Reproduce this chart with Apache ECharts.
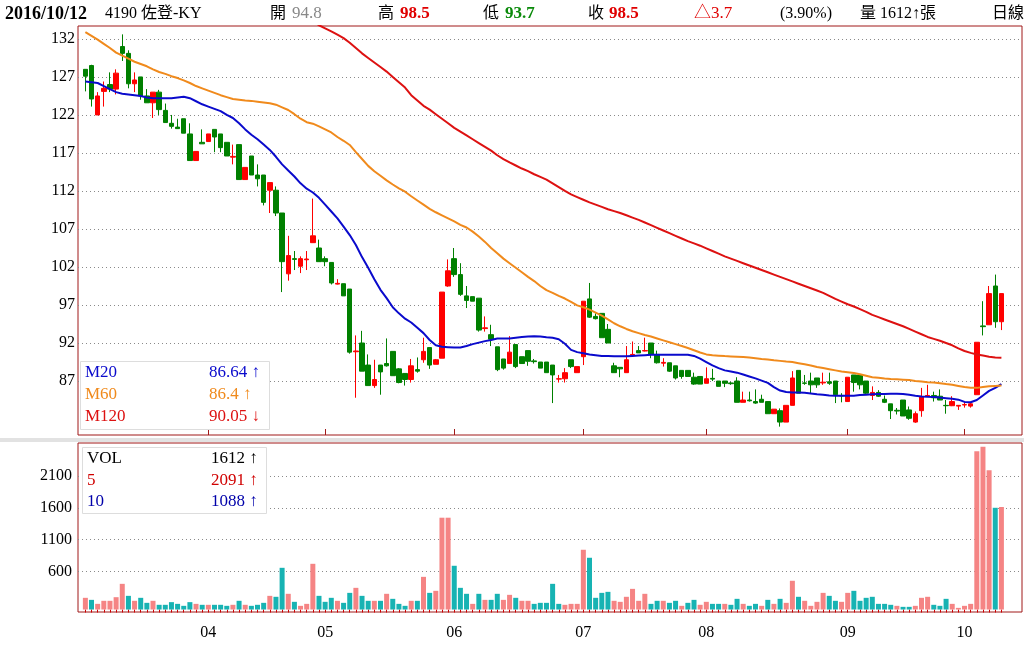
<!DOCTYPE html>
<html><head><meta charset="utf-8">
<script src="https://cdn.jsdelivr.net/npm/echarts@6/dist/echarts.min.js"></script>
<style>html,body{margin:0;padding:0;background:#fff}#c{width:1024px;height:662px}</style>
</head><body><div id="c"></div>
<script>
// ---------- data ----------
const monthLabels = ['03','04','05','06','07','08','09','10'];
const monthCounts = [20,19,21,21,20,23,19,7];

const open = [128.0,128.5,122.0,125.1,126.0,125.4,131.0,130.1,126.1,127.0,
124.5,123.6,125.0,122.6,120.9,120.4,121.5,119.5,116.0,118.4,
118.5,120.1,119.5,118.4,116.45,118.1,113.5,116.6,114.1,114.1,
112.1,112.1,109.1,101.1,103.1,102.1,102.95,105.2,104.5,103.1,
102.6,99.75,99.8,99.1,90.85,92.0,89.1,86.4,89.1,89.3,
90.9,88.6,88.0,87.2,88.5,89.8,91.4,89.2,90.0,99.5,
103.1,101.0,98.2,98.1,97.9,93.9,93.1,91.5,89.9,89.3,
91.8,90.2,91.0,89.65,89.5,89.5,89.1,87.25,87.3,89.8,
88.1,90.2,97.8,95.5,95.9,93.8,89.0,88.8,88.1,90.4,
91.0,90.95,92.0,90.5,89.35,89.4,89.0,88.4,88.4,87.5,
87.6,86.7,87.35,87.0,87.0,86.75,87.0,84.2,84.5,84.3,
84.6,84.3,82.7,83.1,81.6,83.8,88.4,86.75,87.0,87.4,
86.75,86.9,87.0,85.1,84.3,87.8,87.8,87.0,85.1,85.5,
84.6,84.0,83.15,84.5,83.2,81.6,83.1,85.0,85.1,85.0,
83.8,83.75,83.7,83.85,83.7,85.2,94.25,94.4,99.5,94.8];

const close = [127.1,124.1,124.5,125.5,125.4,127.5,130.1,126.1,126.6,124.5,
123.6,125.0,122.7,121.0,120.5,120.2,119.6,116.0,117.2,118.2,
119.5,119.1,117.7,116.6,116.55,113.5,115.1,114.1,113.6,110.5,
113.1,109.1,102.7,103.5,103.0,103.1,103.05,106.1,102.7,102.7,
99.9,99.85,98.2,90.8,90.95,88.3,86.4,87.2,88.2,89.0,
87.7,86.8,87.2,89.0,88.3,90.9,89.1,89.8,98.7,101.5,
101.0,98.4,97.6,97.5,93.7,94.0,92.5,88.5,88.7,90.8,
88.9,89.3,89.6,89.55,88.7,88.1,87.8,87.3,88.1,88.9,
88.9,97.5,95.4,95.2,92.7,92.0,88.1,88.6,89.8,90.5,
90.7,91.0,90.5,89.4,89.45,88.3,87.4,87.6,87.6,86.6,
86.6,87.3,87.25,86.3,86.7,86.65,84.2,84.5,84.4,84.1,
84.2,82.7,83.3,81.6,83.8,87.4,85.4,86.7,86.5,86.5,
86.85,86.7,85.2,85.05,87.5,86.8,86.5,85.4,85.5,85.0,
84.2,83.1,83.05,82.4,82.1,82.7,84.9,85.1,84.8,84.5,
83.75,84.3,83.8,83.9,84.0,92.1,94.15,98.5,94.8,98.5];

const low = [125.1,123.1,122.0,123.1,125.0,124.7,129.1,125.5,125.0,124.0,
123.6,121.6,122.0,121.0,120.2,120.2,119.6,116.0,116.0,118.2,
118.5,117.1,117.1,116.6,115.5,113.5,113.5,114.1,112.6,110.1,
109.1,108.7,98.7,100.2,101.6,101.2,101.6,105.2,102.7,102.1,
99.7,99.7,98.2,90.6,84.8,88.3,86.4,86.1,85.2,88.9,
87.7,86.7,86.4,86.8,88.1,89.4,88.6,89.2,90.0,99.4,
100.7,98.2,96.6,97.5,93.5,93.5,91.6,88.3,88.5,89.3,
88.7,89.3,89.0,89.3,88.7,88.1,84.1,86.8,86.8,88.7,
88.1,89.1,95.3,95.1,92.7,92.0,88.1,87.5,88.1,90.3,
90.7,90.9,90.0,89.3,88.9,88.2,87.2,87.3,87.6,86.5,
86.6,86.7,87.0,86.3,86.2,86.5,84.2,84.2,84.3,84.0,
84.2,82.7,82.7,81.0,81.6,83.8,85.4,86.5,85.4,86.1,
86.5,86.5,84.1,84.2,84.3,85.6,85.9,85.2,84.5,84.9,
84.1,82.0,82.6,82.4,81.9,81.5,82.3,85.0,84.3,84.5,
82.7,83.7,83.2,83.5,83.5,85.2,93.0,94.4,94.0,93.7];

const high = [128.0,128.6,125.0,126.4,127.6,128.0,132.6,130.5,127.6,127.0,
125.4,125.0,125.3,123.5,122.0,121.5,121.5,120.9,117.2,120.1,
119.5,120.1,119.5,118.4,118.1,118.1,115.1,116.6,115.5,114.1,
113.1,112.6,109.1,106.1,104.1,103.4,104.1,111.0,105.6,103.4,
102.6,100.4,99.8,99.1,93.0,93.6,90.5,89.8,89.1,92.6,
90.9,88.7,88.0,89.9,90.1,92.7,91.4,89.9,98.7,103.0,
104.5,102.5,99.5,98.1,97.9,95.5,94.4,91.5,89.9,92.9,
91.8,90.2,91.0,89.9,89.5,89.5,89.1,87.8,88.7,89.8,
88.9,97.5,99.9,95.9,95.9,94.5,89.4,88.8,91.6,92.2,
91.6,92.7,92.0,91.0,90.0,89.4,89.0,88.4,88.4,88.1,
87.6,88.8,88.6,87.0,87.0,86.9,87.5,85.6,85.6,85.9,
85.2,84.3,83.3,83.4,83.8,88.3,88.4,87.8,88.1,87.4,
88.1,88.1,87.0,85.4,87.5,87.8,87.8,87.0,86.3,85.8,
85.1,84.0,83.45,84.5,83.65,83.0,86.1,86.5,85.6,85.9,
84.5,85.0,83.8,84.2,84.2,92.1,97.5,99.5,101.0,98.5];

const ma20 = [126.4,126.3,126.2,125.8,125.4,125.0,124.8,124.7,124.6,124.5,
124.3,124.2,124.2,124.2,124.2,124.3,124.4,124.2,123.8,123.4,
123.1,122.8,122.5,122.0,121.6,120.9,120.1,119.4,118.8,118.1,
117.4,116.5,115.5,114.7,113.9,113.0,112.3,111.8,111.1,110.2,
109.3,108.4,107.3,106.2,104.9,103.3,101.9,100.4,99.0,97.9,
96.7,95.9,95.2,94.7,94.0,93.3,92.4,91.7,91.5,91.45,
91.4,91.4,91.6,91.85,92.05,92.25,92.4,92.6,92.6,92.6,
92.7,92.8,92.85,92.9,92.85,92.75,92.7,92.5,91.9,91.1,
90.8,90.65,90.5,90.4,90.3,90.3,90.25,90.25,90.25,90.3,
90.35,90.4,90.45,90.45,90.45,90.45,90.45,90.45,90.45,90.3,
89.95,89.5,89.05,88.7,88.4,88.25,88.1,87.85,87.6,87.35,
87.05,86.75,86.2,85.75,85.55,85.5,85.5,85.45,85.35,85.25,
85.2,85.1,85.07,85.07,85.07,85.07,85.15,85.2,85.25,85.3,
85.3,85.33,85.33,85.3,85.2,85.05,84.95,84.92,84.9,84.82,
84.75,84.68,84.55,84.25,84.2,84.5,85.1,85.7,86.1,86.6];

const ma60 = [132.9,132.4,131.9,131.35,130.8,130.2,129.8,129.4,129.0,128.7,
128.4,128.0,127.65,127.4,127.1,126.85,126.55,126.2,125.8,125.5,
125.2,124.9,124.6,124.35,124.1,124.0,123.9,123.85,123.75,123.65,
123.55,123.35,123.0,122.65,122.1,121.5,121.05,120.85,120.5,120.1,
119.7,119.1,118.6,118.05,117.1,116.2,115.3,114.6,114.0,113.4,
112.85,112.35,111.9,111.3,110.75,110.2,109.65,109.2,108.8,108.4,
108.0,107.55,107.2,106.65,106.0,105.3,104.5,103.8,103.1,102.5,
101.9,101.3,100.7,100.15,99.5,98.95,98.6,98.2,97.85,97.4,
96.95,96.7,96.4,96.0,95.6,95.1,94.6,94.2,93.85,93.55,
93.3,93.05,92.85,92.6,92.35,92.1,91.85,91.6,91.35,91.05,
90.75,90.5,90.38,90.33,90.28,90.24,90.2,90.16,90.1,90.0,
89.9,89.82,89.73,89.65,89.56,89.5,89.35,89.2,89.05,88.85,
88.7,88.55,88.4,88.25,88.15,88.05,87.9,87.7,87.5,87.42,
87.33,87.27,87.22,87.17,87.12,87.0,86.93,86.85,86.8,86.72,
86.6,86.5,86.35,86.2,86.13,86.1,86.22,86.32,86.36,86.4];

const ma120 = [null,null,null,null,null,null,null,null,null,null,
null,null,null,null,null,null,null,null,null,null,
null,null,null,null,null,null,null,null,null,null,
null,null,null,136.6,136.1,135.5,134.9,134.3,133.8,133.4,
133.0,132.55,132.1,131.5,130.8,130.1,129.5,128.9,128.3,127.7,
127.0,126.3,125.6,124.6,123.9,123.2,122.7,122.1,121.5,120.9,
120.3,119.8,119.3,118.8,118.3,117.8,117.3,116.7,116.2,115.75,
115.35,114.95,114.6,114.2,113.85,113.5,113.0,112.5,112.0,111.55,
111.2,110.85,110.5,110.2,109.9,109.6,109.35,109.1,108.8,108.5,
108.2,107.85,107.5,107.15,106.8,106.45,106.1,105.75,105.4,105.1,
104.8,104.45,104.1,103.75,103.4,103.1,102.8,102.5,102.2,101.9,
101.6,101.3,101.0,100.7,100.4,100.1,99.8,99.5,99.2,98.9,
98.6,98.2,97.8,97.45,97.1,96.8,96.45,96.1,95.7,95.4,
95.1,94.8,94.5,94.2,93.85,93.5,93.15,92.8,92.55,92.3,
92.0,91.7,91.3,90.95,90.7,90.5,90.35,90.2,90.1,90.05];

const volume = [184,152,89,137,137,194,404,215,137,184,
105,137,74,74,116,89,58,116,89,74,
74,74,74,58,74,137,74,58,74,105,
215,200,656,247,121,58,89,719,215,121,
184,137,105,262,341,215,137,137,137,247,
168,89,58,137,137,514,262,294,1444,1444,
688,341,247,89,247,152,152,247,152,231,
184,137,137,89,105,105,404,89,74,89,
89,940,814,184,262,278,137,121,200,325,
137,247,89,137,137,105,137,58,105,152,
74,121,89,89,89,74,168,89,58,89,
58,152,89,168,105,452,200,137,58,121,
262,215,137,121,262,294,137,184,200,89,
89,74,58,42,42,58,184,200,74,58,
168,89,26,58,89,2490,2560,2190,1600,1612];

const volUp = [1,0,1,1,1,1,1,0,1,0,
0,1,0,0,0,0,0,0,1,0,
1,0,0,0,1,0,1,0,0,0,
1,0,0,1,0,1,1,1,0,0,
0,1,0,0,1,0,0,1,0,1,
0,0,0,1,0,1,0,1,1,1,
0,0,0,1,0,1,0,0,1,1,
0,1,1,0,0,0,0,0,1,1,
1,1,0,0,0,0,1,1,1,1,
1,1,0,0,1,0,0,1,0,0,
1,1,0,0,1,0,0,1,0,0,
1,0,1,0,1,1,0,1,1,1,
1,0,0,1,1,0,0,0,0,0,
0,0,1,0,0,1,1,1,0,0,
0,1,1,1,1,1,1,1,0,1];

const priceTicks = [87,92,97,102,107,112,117,122,127,132];
const volTicks = [600,1100,1600,2100];

const qDate = '2016/10/12';
const qName = '4190 佐登-KY';
const qOHLC = ['94.8','98.5','93.7','98.5'];
const qChange = ['△3.7','(3.90%)'];
const qVol = '1612';
const maNames = ['M20','M60','M120'];
const maLast = ['86.64 ↑','86.4 ↑','90.05 ↓'];
const volNames = ['VOL','5','10'];
const volLast = ['1612 ↑','2091 ↑','1088 ↑'];

// ---------- derived ----------
const monthStarts = [];
{ let s = 0; monthCounts.forEach(c => { monthStarts.push(s); s += c; }); }
const labelAt = {};
monthStarts.forEach((s, k) => { labelAt[s] = monthLabels[k]; });
const shownStarts = monthStarts.slice(1);
const allIdx = open.map((_, i) => i);

// ---------- style ----------
const FONT = '"Liberation Serif","Noto Sans CJK TC",serif';
const FRAME = '#A01818';
const UPC = '#FF0000', DNC = '#008000';
const VUP = '#F58484', VDN = '#17B3B3';
const C20 = '#0A0ACC', C60 = '#F08A1C', C120 = '#DD1111';
const XMIN = -1.2, XMAX = 152.35;

function txt(x, y, text, size, color, bold, align) {
  return { type: 'text', x: x, y: y, silent: true, z: 100,
    style: { text: text, font: (bold ? 'bold ' : '') + size + 'px ' + FONT, fill: color,
      align: align || 'left', verticalAlign: 'middle' } };
}

const graphics = [
  { type: 'rect', shape: { x: 0, y: 438, width: 1024, height: 4 }, style: { fill: '#E2E2E2' }, silent: true, z: 1 },
  txt(5, 14, qDate, 18, '#000', true),
  txt(105, 14, qName, 16, '#000'),
  txt(270, 14, '開', 16, '#000'), txt(292, 14, qOHLC[0], 17, '#888'),
  txt(378, 14, '高', 16, '#000'), txt(400, 14, qOHLC[1], 17, '#E00000', true),
  txt(483, 14, '低', 16, '#000'), txt(505, 14, qOHLC[2], 17, '#0A8A0A', true),
  txt(588, 14, '收', 16, '#000'), txt(609, 14, qOHLC[3], 17, '#E00000', true),
  txt(694, 14, qChange[0], 17, '#E00000'),
  txt(780, 14, qChange[1], 16, '#000'),
  txt(860, 14, '量 ' + qVol + '↑張', 16, '#000'),
  txt(992, 14, '日線', 16, '#000'),
  { type: 'rect', shape: { x: 80.5, y: 361.5, width: 189, height: 68 }, style: { fill: '#fff', stroke: '#DDDDDD', lineWidth: 1 }, silent: true, z: 90 },
  { type: 'rect', shape: { x: 82.5, y: 447.5, width: 184, height: 66 }, style: { fill: '#fff', stroke: '#DDDDDD', lineWidth: 1 }, silent: true, z: 90 }
];
const maCols = [C20, C60, C120];
const maRows = [373, 395, 417];
maNames.forEach((n, k) => {
  graphics.push(txt(85, maRows[k], n, 17, maCols[k]));
  graphics.push(txt(209, maRows[k], maLast[k], 17, maCols[k]));
});
const volCols = ['#000', '#D00000', '#0000AA'];
const volRows = [459, 481, 502];
volNames.forEach((n, k) => {
  graphics.push(txt(87, volRows[k], n, 17, volCols[k]));
  graphics.push(txt(211, volRows[k], volLast[k], 17, volCols[k]));
});

const chart = echarts.init(document.getElementById('c'), null, { renderer: 'canvas' });
chart.setOption({
  animation: false,
  backgroundColor: '#fff',
  grid: [
    { left: 78, top: 26, width: 944, height: 409, show: true, borderColor: FRAME, borderWidth: 1, backgroundColor: '#fff' },
    { left: 78, top: 443, width: 944, height: 169, show: true, borderColor: FRAME, borderWidth: 1, backgroundColor: '#fff' }
  ],
  xAxis: [
    { type: 'value', gridIndex: 0, min: XMIN, max: XMAX,
      axisLine: { show: false }, splitLine: { show: false }, axisLabel: { show: false },
      axisTick: { show: true, inside: true, length: 6, customValues: shownStarts, lineStyle: { color: FRAME, width: 1 } } },
    { type: 'value', gridIndex: 1, min: XMIN, max: XMAX, offset: 3,
      axisLine: { show: false }, splitLine: { show: false },
      axisTick: { show: true, length: 3, customValues: allIdx, lineStyle: { color: '#CC0000', width: 1 } },
      axisLabel: { show: true, customValues: shownStarts, margin: 10, fontSize: 16, fontFamily: FONT, color: '#000',
        formatter: v => labelAt[v] || '' } }
  ],
  yAxis: [
    { type: 'value', gridIndex: 0, min: 79.9, max: 133.7,
      axisLine: { show: false }, axisTick: { show: false, customValues: priceTicks },
      axisLabel: { customValues: priceTicks, margin: 3, fontSize: 16, fontFamily: FONT, color: '#000',
        formatter: v => String(v) },
      splitLine: { show: true, lineStyle: { color: '#8A8A8A', type: [1, 3], width: 1 } } },
    { type: 'value', gridIndex: 1, min: -39, max: 2619,
      axisLine: { show: false }, axisTick: { show: false, customValues: volTicks },
      axisLabel: { customValues: volTicks, margin: 6, fontSize: 16, fontFamily: FONT, color: '#000',
        formatter: v => String(v) },
      splitLine: { show: true, lineStyle: { color: '#8A8A8A', type: [1, 3], width: 1 } } }
  ],
  graphic: graphics,
  series: [
    { type: 'candlestick', xAxisIndex: 0, yAxisIndex: 0, barWidth: 5,
      encode: { x: 0, y: [1, 2, 3, 4] },
      data: open.map((o, i) => [i, o, close[i], low[i], high[i]]),
      itemStyle: { color: UPC, color0: DNC, borderColor: UPC, borderColor0: DNC, borderWidth: 1 },
      z: 3 },
    { type: 'line', xAxisIndex: 0, yAxisIndex: 0, showSymbol: false, symbol: 'none', z: 5,
      lineStyle: { color: C20, width: 2 }, data: ma20.map((v, i) => [i, v]) },
    { type: 'line', xAxisIndex: 0, yAxisIndex: 0, showSymbol: false, symbol: 'none', z: 5,
      lineStyle: { color: C60, width: 2 }, data: ma60.map((v, i) => [i, v]) },
    { type: 'line', xAxisIndex: 0, yAxisIndex: 0, showSymbol: false, symbol: 'none', z: 5, connectNulls: false,
      lineStyle: { color: C120, width: 2 }, data: ma120.map((v, i) => [i, v]) },
    { type: 'bar', xAxisIndex: 1, yAxisIndex: 1, barWidth: 5, z: 3,
      data: volume.map((v, i) => ({ value: [i, v], itemStyle: { color: volUp[i] ? VUP : VDN } })) }
  ]
});
</script>
</body></html>
